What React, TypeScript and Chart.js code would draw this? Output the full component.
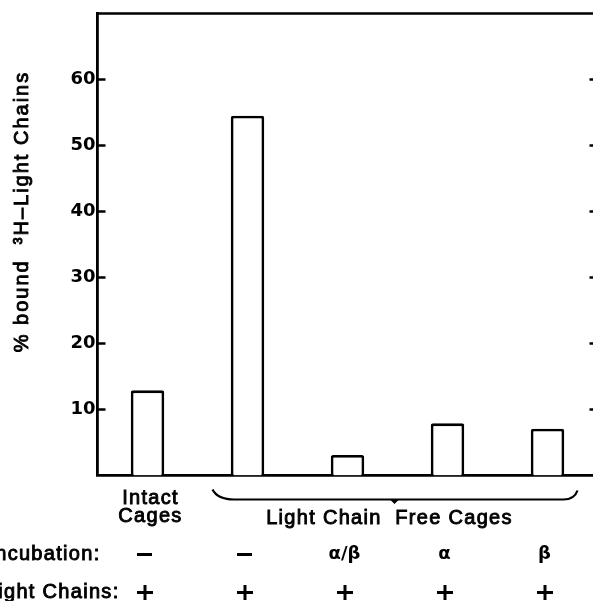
import { useEffect, useRef } from "react";
import { Chart, registerables } from "chart.js";

Chart.register(...registerables);

const categories = ["Intact Cages", "Free −", "Free α/β", "Free α", "Free β"];
const boundPercent = [12.9, 54.5, 3.1, 7.9, 7.1];
const yTicks = [10, 20, 30, 40, 50, 60];
const yMax = 70;
const incubation = ["−", "−", "α/β", "α", "β"];
const lightChains = ["+", "+", "+", "+", "+"];
const firstLabel = ["Intact", "Cages"];
const groupLabel = "Light Chain  Free Cages";
const yTitle = "% bound  ³H–Light Chains";
const rowTitles = ["Incubation:", "Light Chains:"];

const CANVAS_W = 610;
const CANVAS_H = 601;

const decorPlugin = {
  id: "decor",
  afterDraw(chart: any) {
    const { ctx, chartArea, scales } = chart;
    const x = scales.x;
    const y = scales.y;
    const { left, right, top, bottom } = chartArea;
    ctx.save();
    ctx.strokeStyle = "#000";
    ctx.fillStyle = "#000";
    ctx.lineWidth = 2.6;
    ctx.lineCap = "butt";
    // top frame
    ctx.beginPath();
    ctx.moveTo(left - 1, top);
    ctx.lineTo(right, top);
    ctx.moveTo(right, top);
    ctx.lineTo(right, bottom);
    ctx.stroke();
    // inner ticks
    ctx.beginPath();
    for (const v of yTicks) {
      const py = y.getPixelForValue(v);
      ctx.moveTo(left, py);
      ctx.lineTo(left + 8, py);
      ctx.moveTo(right - 8, py);
      ctx.lineTo(right, py);
    }
    ctx.stroke();

    // y title
    ctx.save();
    ctx.translate(22, (top + bottom) / 2 - 33);
    ctx.rotate(-Math.PI / 2);
    ctx.font = "20px 'Liberation Sans'";
    (ctx as any).letterSpacing = "2px";
    ctx.textAlign = "center";
    ctx.textBaseline = "middle";
    ctx.lineWidth = 0.9;
    ctx.fillText(yTitle, 0, 0);
    ctx.strokeText(yTitle, 0, 0);
    ctx.restore();

    const cx = (i: number) => x.getPixelForValue(i);
    const catW = cx(1) - cx(0);

    ctx.font = "20px 'Liberation Sans'";
    (ctx as any).letterSpacing = "1.3px";
    ctx.textAlign = "center";
    ctx.textBaseline = "middle";
    ctx.lineWidth = 0.9;
    // Intact Cages
    firstLabel.forEach((t, k) => {
      const px = cx(0) + 3;
      const py = bottom + 22.5 + k * 18.5;
      ctx.fillText(t, px, py);
      ctx.strokeText(t, px, py);
    });
    // brace
    const bl = cx(1) - 0.35 * catW;
    const br = cx(4) + 0.3 * catW;
    const bm = (cx(1) + cx(4)) / 2 - 3;
    const by = bottom + 24;
    ctx.lineWidth = 2.2;
    ctx.beginPath();
    ctx.moveTo(bl, bottom + 14);
    ctx.quadraticCurveTo(bl + 5, by, bl + 22, by);
    ctx.lineTo(br - 14, by);
    ctx.quadraticCurveTo(br - 3, by, br, bottom + 15);
    ctx.stroke();
    ctx.beginPath();
    ctx.moveTo(bm - 5, by - 0.5);
    ctx.lineTo(bm + 5, by - 0.5);
    ctx.lineTo(bm, by + 4.5);
    ctx.closePath();
    ctx.fill();
    // group label
    ctx.lineWidth = 0.9;
    ctx.fillText(groupLabel, bm - 5, bottom + 42.5);
    ctx.strokeText(groupLabel, bm - 5, bottom + 42.5);

    // row titles
    ctx.textAlign = "right";
    const rowY = [bottom + 79, bottom + 117];
    rowTitles.forEach((t, k) => {
      const px = k === 0 ? left + 3 : left + 22;
      ctx.fillText(t, px, rowY[k]);
      ctx.strokeText(t, px, rowY[k]);
    });

    // symbols
    ctx.textAlign = "center";
    (ctx as any).letterSpacing = "0px";
    incubation.forEach((t, i) => {
      const px = cx(i) - 3;
      if (t === "−") {
        ctx.fillRect(px - 7.5, rowY[0] - 1.5, 15, 3);
      } else {
        ctx.font = "bold 18px 'DejaVu Sans'";
        ctx.fillText(t, px, rowY[0]);
      }
    });
    lightChains.forEach((t, i) => {
      const px = cx(i) - 2.5;
      if (t === "+") {
        ctx.fillRect(px - 8, rowY[1] - 1.5, 16, 3);
        ctx.fillRect(px - 1.5, rowY[1] - 7.5, 3, 15);
      } else {
        ctx.font = "bold 26px 'Liberation Sans'";
        ctx.fillText(t, px, rowY[1]);
      }
    });
    ctx.restore();
  },
};

export default function App() {
  const ref = useRef<HTMLCanvasElement | null>(null);
  useEffect(() => {
    const canvas = ref.current;
    if (!canvas) return;
    const chart = new Chart(canvas, {
      type: "bar",
      data: {
        labels: categories,
        datasets: [
          {
            data: boundPercent,
            backgroundColor: "#fff",
            borderColor: "#000",
            borderWidth: 2.8,
            borderSkipped: "bottom",
            borderRadius: 2,
            barPercentage: 0.335,
            categoryPercentage: 1,
          },
        ],
      },
      options: {
        responsive: false,
        animation: false,
        devicePixelRatio: 1,
        layout: { padding: { left: 0, top: 13.5, right: CANVAS_W - 597.5, bottom: 0 } },
        plugins: { legend: { display: false }, tooltip: { enabled: false } },
        scales: {
          x: {
            type: "category",
            grid: { display: false, drawTicks: false },
            border: { display: true, color: "#000", width: 2.8 },
            ticks: { display: false },
            afterFit: (s: any) => {
              s.height = CANVAS_H - 475.5;
            },
          },
          y: {
            min: 0,
            max: yMax,
            grid: { display: false, drawTicks: false },
            border: { display: true, color: "#000", width: 2.8 },
            ticks: {
              stepSize: 10,
              includeBounds: false,
              padding: 2,
              color: "#000",
              font: { family: "'DejaVu Sans'", size: 18, weight: "bold" },
              callback: (v: any) => (yTicks.includes(Number(v)) ? String(v) : ""),
            },
            afterFit: (s: any) => {
              s.width = 97.5;
            },
          },
        },
      },
      plugins: [decorPlugin],
    });
    return () => chart.destroy();
  }, []);
  return (
    <div
      style={{
        position: "fixed",
        left: 0,
        top: 0,
        width: 593,
        height: 601,
        overflow: "hidden",
        background: "#fff",
      }}
    >
      <canvas ref={ref} width={CANVAS_W} height={CANVAS_H} style={{ display: "block", width: CANVAS_W, height: CANVAS_H }} />
    </div>
  );
}
